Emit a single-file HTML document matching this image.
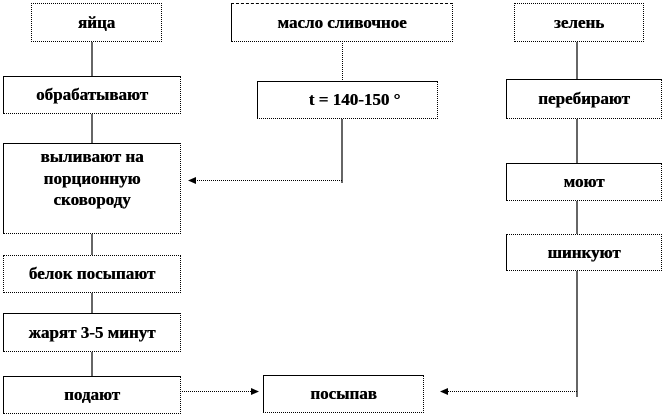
<!DOCTYPE html>
<html><head><meta charset="utf-8">
<style>
html,body{margin:0;padding:0;background:#fff;}
body{width:664px;height:416px;position:relative;overflow:hidden;}
.b{position:absolute;box-sizing:border-box;border:1px solid #000;border-right-style:dotted;border-bottom-style:dotted;display:flex;align-items:center;justify-content:center;text-align:center;font-family:"Liberation Serif","Times New Roman",Tinos,Times,"DejaVu Serif",serif;font-weight:bold;font-size:17px;color:#000;line-height:21.5px;background:#fff;text-shadow:0.4px 0 0 #000;}
.d{border-style:dotted;}
svg{position:absolute;left:0;top:0;}
</style></head><body>
<svg width="664" height="416" viewBox="0 0 664 416">
<g stroke="#000" stroke-width="1.2" fill="none">
<line x1="92" y1="41" x2="92" y2="76"/>
<line x1="92" y1="113" x2="92" y2="143"/>
<line x1="92" y1="233" x2="92" y2="255"/>
<line x1="92" y1="292" x2="92" y2="313"/>
<line x1="92" y1="351" x2="92" y2="376"/>
<line x1="342" y1="118" x2="342" y2="183"/>
<line x1="577" y1="41" x2="577" y2="79"/>
<line x1="577" y1="118" x2="577" y2="163"/>
<line x1="577" y1="200" x2="577" y2="234"/>
<line x1="577" y1="270" x2="577" y2="397"/>
</g>
<g stroke="#000" stroke-width="1" fill="none" stroke-dasharray="1 1">
<line x1="342.5" y1="41" x2="342.5" y2="81"/>
<line x1="195" y1="180.5" x2="342" y2="180.5"/>
<line x1="180" y1="391.5" x2="253" y2="391.5"/>
<line x1="446" y1="391.5" x2="577" y2="391.5"/>
</g>
<g fill="#000">
<polygon points="188,180.5 196,177 196,184"/>
<polygon points="259,391.5 251,388 251,395"/>
<polygon points="440,391.5 448,388 448,395"/>
</g>
</svg>

<div class="b d" style="left:31px;top:3px;width:131px;height:39px;">яйца</div>
<div class="b" style="left:3px;top:76px;width:178px;height:38px;">обрабатывают</div>
<div class="b" style="left:3px;top:143px;width:178px;height:91px;align-items:flex-start;padding-top:2px;">выливают на<br>порционную<br>сковороду</div>
<div class="b d" style="left:3px;top:255px;width:178px;height:38px;">белок посыпают</div>
<div class="b" style="left:3px;top:313px;width:178px;height:39px;">жарят 3-5 минут</div>
<div class="b" style="left:3px;top:376px;width:178px;height:38px;">подают</div>

<div class="b" style="left:231px;top:3px;width:222px;height:39px;border-top-style:dashed;">масло сливочное</div>
<div class="b" style="left:257px;top:81px;width:181px;height:38px;padding-left:14px;">t = 140-150 °</div>
<div class="b" style="left:263px;top:375px;width:161px;height:38px;">посыпав</div>

<div class="b d" style="left:514px;top:3px;width:130px;height:39px;">зелень</div>
<div class="b" style="left:506px;top:79px;width:156px;height:40px;">перебирают</div>
<div class="b" style="left:506px;top:163px;width:156px;height:38px;">моют</div>
<div class="b" style="left:506px;top:234px;width:156px;height:37px;border-top-style:dotted;">шинкуют</div>
</body></html>
